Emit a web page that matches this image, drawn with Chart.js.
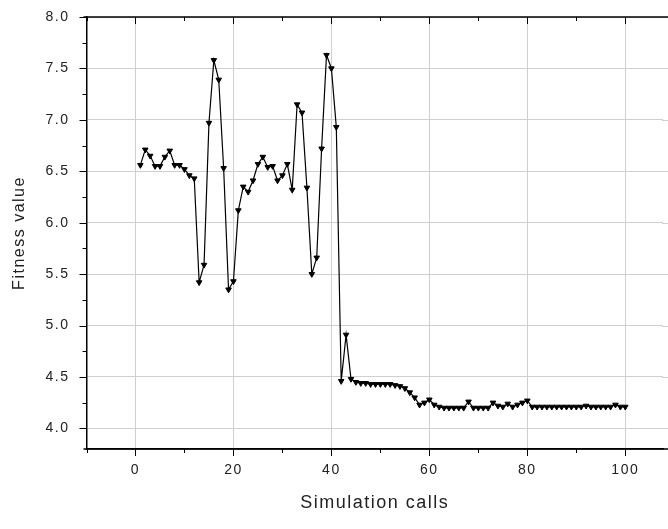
<!DOCTYPE html>
<html>
<head>
<meta charset="utf-8">
<script src="https://cdn.jsdelivr.net/npm/chart.js@4/dist/chart.umd.min.js"></script>
<style>
html,body{margin:0;padding:0;background:#fff;overflow:hidden}
#wrap{width:668px;height:529px;position:relative}
</style>
</head>
<body>
<div id="wrap"><canvas id="c" width="668" height="529"></canvas></div>
<script>
// ---- data ----
const simulationCalls = [
  1,2,3,4,5,6,7,8,9,10,11,12,13,14,15,16,17,18,19,20,
  21,22,23,24,25,26,27,28,29,30,31,32,33,34,35,36,37,38,39,40,
  41,42,43,44,45,46,47,48,49,50,51,52,53,54,55,56,57,58,59,60,
  61,62,63,64,65,66,67,68,69,70,71,72,73,74,75,76,77,78,79,80,
  81,82,83,84,85,86,87,88,89,90,91,92,93,94,95,96,97,98,99,100
];
const fitnessValues = [
  6.56,6.71,6.65,6.55,6.55,6.64,6.70,6.56,6.56,6.52,
  6.46,6.43,5.42,5.59,6.97,7.58,7.39,6.53,5.35,5.43,
  6.12,6.35,6.30,6.41,6.57,6.64,6.54,6.55,6.41,6.46,
  6.57,6.32,7.15,7.07,6.34,5.50,5.66,6.72,7.63,7.50,
  6.93,4.46,4.91,4.48,4.45,4.44,4.44,4.43,4.43,4.43,
  4.43,4.43,4.42,4.41,4.39,4.35,4.30,4.23,4.25,4.28,
  4.23,4.21,4.20,4.20,4.20,4.20,4.20,4.26,4.20,4.20,
  4.20,4.20,4.25,4.22,4.21,4.24,4.21,4.23,4.25,4.27,
  4.21,4.21,4.21,4.21,4.21,4.21,4.21,4.21,4.21,4.21,
  4.21,4.22,4.21,4.21,4.21,4.21,4.21,4.23,4.21,4.21
];
const xTickLabels = [0, 20, 40, 60, 80, 100];
const yTickLabels = [4.0, 4.5, 5.0, 5.5, 6.0, 6.5, 7.0, 7.5, 8.0];
const xAxisTitle = 'Simulation calls';
const yAxisTitle = 'Fitness value';

const points = simulationCalls.map((x, i) => ({ x: x, y: fitnessValues[i] }));

const near = (a, b) => Math.abs(a - b) < 1e-6;
const isXLabel = v => xTickLabels.some(t => near(t, v));
const isYLabel = v => yTickLabels.some(t => near(t, v));

const FONT = '"Liberation Sans", Arial, sans-serif';
const TXT = '#222';
const GRID = '#cfcfcf';

const spacing = {
  id: 'spacing',
  beforeDraw(chart) { chart.ctx.letterSpacing = '1.5px'; }
};

// extends the horizontal grid lines to the canvas edge (the plot is cut at the right)
const gridExtend = {
  id: 'gridExtend',
  beforeDatasetsDraw(chart) {
    const { ctx, chartArea: a, scales: { y } } = chart;
    ctx.save();
    ctx.strokeStyle = GRID;
    ctx.lineWidth = 1;
    ctx.beginPath();
    y.ticks.forEach(t => {
      if (!isYLabel(t.value)) return;
      const py = Math.round(y.getPixelForValue(t.value)) + 0.5;
      ctx.moveTo(a.right - 1, py);
      ctx.lineTo(chart.width, py);
    });
    ctx.stroke();
    ctx.restore();
  }
};

const frameTicks = {
  id: 'frameTicks',
  afterDraw(chart) {
    const { ctx, chartArea: a, scales: { x, y } } = chart;
    ctx.save();
    ctx.strokeStyle = '#000';
    ctx.lineWidth = 1.5;
    ctx.beginPath();
    ctx.moveTo(a.left - 3, a.top);
    ctx.lineTo(chart.width, a.top);
    ctx.moveTo(a.left - 3, a.bottom);
    ctx.lineTo(chart.width, a.bottom);
    ctx.stroke();
    ctx.lineWidth = 1;
    ctx.beginPath();
    x.ticks.forEach(t => {
      const px = Math.round(x.getPixelForValue(t.value)) + 0.5;
      const major = near(t.value % 20, 0);
      const L = major ? 7 : 4;
      ctx.moveTo(px, a.bottom);
      ctx.lineTo(px, a.bottom + L);
      ctx.moveTo(px, a.top);
      ctx.lineTo(px, a.top + L);
    });
    y.ticks.forEach(t => {
      if (t.value < 3.9) return;
      const py = Math.round(y.getPixelForValue(t.value)) + 0.5;
      const major = near(t.value * 2, Math.round(t.value * 2));
      const L = major ? 7 : 4;
      ctx.moveTo(a.left, py);
      ctx.lineTo(a.left - L, py);
    });
    ctx.stroke();
    ctx.restore();
  }
};

new Chart(document.getElementById('c'), {
  type: 'line',
  data: {
    datasets: [{
      data: points,
      borderColor: '#000',
      backgroundColor: '#000',
      borderWidth: 1.2,
      pointStyle: 'triangle',
      rotation: 180,
      pointRadius: 3.2,
      pointBorderWidth: 1,
      pointBackgroundColor: '#000',
      pointBorderColor: '#000',
      tension: 0,
      fill: false
    }]
  },
  options: {
    responsive: false,
    animation: false,
    devicePixelRatio: 1,
    layout: { padding: { top: 17, right: 0, bottom: 0, left: 0 } },
    plugins: { legend: { display: false }, tooltip: { enabled: false } },
    scales: {
      x: {
        type: 'linear',
        min: -10,
        max: 107.7,
        afterBuildTicks: s => { s.ticks = s.ticks.filter(t => near(t.value / 10, Math.round(t.value / 10))); },
        afterFit: s => { s.height = 80; s.paddingLeft = 0; s.paddingRight = 0; },
        ticks: {
          stepSize: 10,
          includeBounds: false,
          autoSkip: false,
          maxRotation: 0,
          padding: 13,
          color: TXT,
          font: { family: FONT, size: 14 },
          callback: v => isXLabel(v) ? String(v) : ''
        },
        grid: {
          drawTicks: false,
          lineWidth: 1,
          color: c => (c.tick && isXLabel(c.tick.value)) ? GRID : 'rgba(0,0,0,0)'
        },
        border: { display: true, color: '#000', width: 1.5 },
        title: {
          display: true,
          text: xAxisTitle,
          color: TXT,
          font: { family: FONT, size: 18 },
          padding: { top: 0, bottom: 15 }
        }
      },
      y: {
        type: 'linear',
        min: 3.8,
        max: 8.0,
        afterFit: s => { s.width = 86.5; s.paddingTop = 0; s.paddingBottom = 0; },
        ticks: {
          stepSize: 0.25,
          autoSkip: false,
          padding: 17,
          color: TXT,
          font: { family: FONT, size: 14 },
          callback: v => isYLabel(v) ? Number(v).toFixed(1) : ''
        },
        grid: {
          drawTicks: false,
          lineWidth: 1,
          color: c => (c.tick && isYLabel(c.tick.value)) ? GRID : 'rgba(0,0,0,0)'
        },
        border: { display: true, color: '#000', width: 1.5 },
        title: {
          display: true,
          text: yAxisTitle,
          color: TXT,
          font: { family: FONT, size: 16 },
          padding: { top: 10, bottom: 0 }
        }
      }
    }
  },
  plugins: [spacing, gridExtend, frameTicks]
});
</script>
</body>
</html>
